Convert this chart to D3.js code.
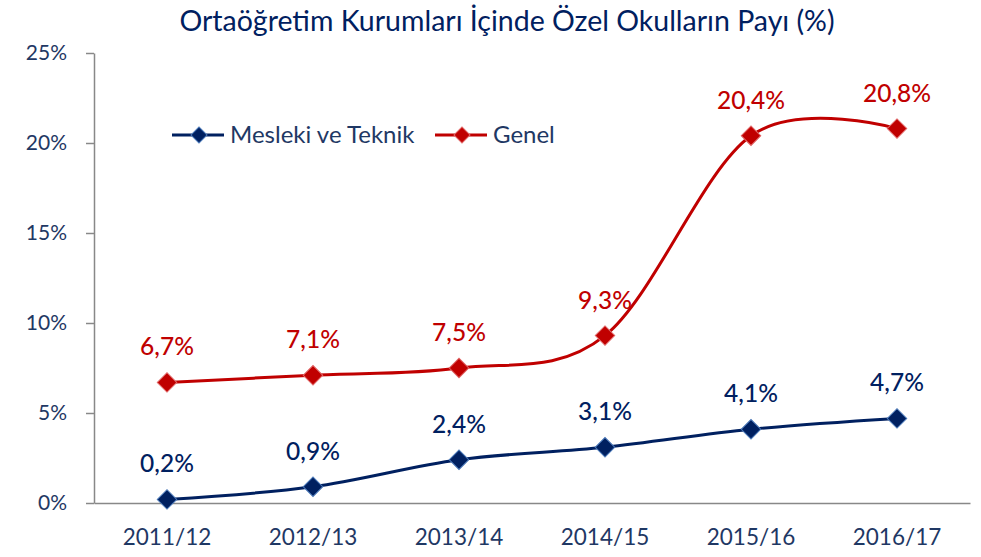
<!DOCTYPE html>
<html>
<head>
<meta charset="utf-8">
<script src="https://cdn.jsdelivr.net/npm/d3@7"></script>
<style>
  body { margin: 0; background: #fff; }
  text { font-family: Lato, "Open Sans", sans-serif; }
</style>
</head>
<body>
<div id="frame"></div>
<script>
// data
let years = ['2011/12', '2012/13', '2013/14', '2014/15', '2015/16', '2016/17'];
let mesleki = [0.2, 0.9, 2.4, 3.1, 4.1, 4.7];
let genel = [6.7, 7.1, 7.5, 9.3, 20.4, 20.8];
let yTicks = [0, 5, 10, 15, 20, 25];

let W = 981, H = 557;
let margin = { top: 53, right: 11, bottom: 54, left: 94 },
    width = W - margin.left - margin.right,
    height = H - margin.top - margin.bottom;

let blue = '#002060', red = '#C00000', axisTxt = '#1F3864';

let svg = d3.select('#frame')
    .append('svg')
    .attr('width', W)
    .attr('height', H);

// title
svg.append('text')
    .attr('x', 507)
    .attr('y', 31)
    .attr('text-anchor', 'middle')
    .style('font-size', '28.5px')
    .style('fill', blue)
    .text('Ortaöğretim Kurumları İçinde Özel Okulların Payı (%)');

let g = svg.append('g')
    .attr('transform', 'translate(' + margin.left + ',' + margin.top + ')');

let x = d3.scaleBand().domain(years).range([0, width]);
let y = d3.scaleLinear().domain([0, 25]).range([height, 0]);
let cx = d => x(d) + x.bandwidth() / 2;

// y axis
let yAxis = g.append('g')
    .call(d3.axisLeft(y).tickValues(yTicks).tickFormat(d => d + '%').tickSize(8).tickSizeOuter(0));
yAxis.select('.domain').attr('stroke', '#888').attr('stroke-width', 1.5);
yAxis.selectAll('.tick line').attr('stroke', '#888').attr('stroke-width', 1.5);
yAxis.selectAll('.tick text')
    .attr('x', -27)
    .style('font-size', '21px')
    .style('font-family', 'Lato, sans-serif')
    .style('fill', axisTxt);

// x axis
let xAxis = g.append('g')
    .attr('transform', 'translate(0,' + height + ')')
    .call(d3.axisBottom(x).tickSize(0).tickSizeOuter(0));
xAxis.select('.domain').attr('stroke', '#888').attr('stroke-width', 1.5);
xAxis.selectAll('.tick text')
    .attr('dy', '1.25em')
    .attr('y', 14)
    .style('font-size', '22.5px')
    .style('font-family', 'Lato, sans-serif')
    .style('fill', axisTxt);

let line = d3.line()
    .x((d, i) => cx(years[i]))
    .y(d => y(d))
    .curve(d3.curveCardinal.tension(0));

let fmt = v => String(v.toFixed(1)).replace('.', ',') + '%';

function drawSeries(vals, color, stroke) {
    g.append('path')
        .datum(vals)
        .attr('d', line)
        .attr('fill', 'none')
        .attr('stroke', color)
        .attr('stroke-width', 3);
    g.selectAll(null)
        .data(vals)
        .enter()
        .append('path')
        .attr('d', d3.symbol(d3.symbolSquare, 190))
        .attr('transform', (d, i) => 'translate(' + cx(years[i]) + ',' + y(d) + ') rotate(45)')
        .attr('fill', color)
        .attr('stroke', stroke)
        .attr('stroke-width', 1);
    g.selectAll(null)
        .data(vals)
        .enter()
        .append('text')
        .attr('x', (d, i) => cx(years[i]))
        .attr('y', d => y(d) - 27)
        .attr('text-anchor', 'middle')
        .style('font-size', '24.5px')
        .style('font-weight', 500)
        .style('fill', color)
        .text(fmt);
}

drawSeries(genel, red, '#e06666');
drawSeries(mesleki, blue, '#4a78b8');

// legend
let legend = [
    { name: 'Mesleki ve Teknik', color: blue, stroke: '#4a78b8', x: 172 },
    { name: 'Genel', color: red, stroke: '#e06666', x: 435 }
];
legend.forEach(l => {
    svg.append('line')
        .attr('x1', l.x).attr('x2', l.x + 52)
        .attr('y1', 135).attr('y2', 135)
        .attr('stroke', l.color).attr('stroke-width', 3);
    svg.append('path')
        .attr('d', d3.symbol(d3.symbolSquare, 130))
        .attr('transform', 'translate(' + (l.x + 27) + ',135) rotate(45)')
        .attr('fill', l.color)
        .attr('stroke', l.stroke);
    svg.append('text')
        .attr('x', l.x + 58)
        .attr('y', 143)
        .style('font-size', '24px')
        .style('fill', axisTxt)
        .text(l.name);
});
</script>
</body>
</html>
